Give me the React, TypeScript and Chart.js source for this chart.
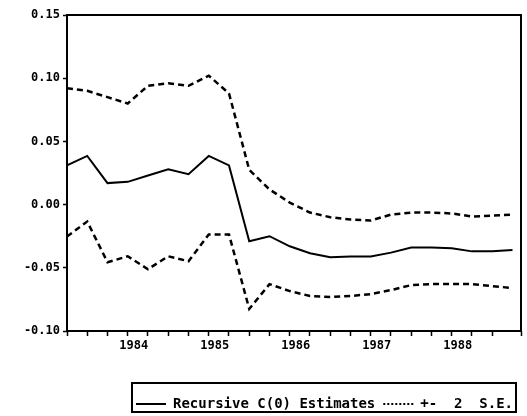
import React, { useEffect, useRef } from "react";
import { Chart, registerables } from "chart.js";

Chart.register(...registerables);

// Quarterly observations 1983:2 .. 1988:4
const quarters = [
  "1983:2", "1983:3", "1983:4",
  "1984:1", "1984:2", "1984:3", "1984:4",
  "1985:1", "1985:2", "1985:3", "1985:4",
  "1986:1", "1986:2", "1986:3", "1986:4",
  "1987:1", "1987:2", "1987:3", "1987:4",
  "1988:1", "1988:2", "1988:3", "1988:4",
];

const estimate = [
  0.031, 0.0385, 0.017, 0.018, 0.023, 0.028, 0.024, 0.0385, 0.031, -0.029, -0.025,
  -0.033, -0.0385, -0.0417, -0.041, -0.041, -0.038, -0.034, -0.034, -0.0346, -0.037,
  -0.037, -0.036,
];

const upperBand = [
  0.092, 0.09, 0.085, 0.08, 0.094, 0.096, 0.094, 0.102, 0.088, 0.0275, 0.012,
  0.0016, -0.0063, -0.01, -0.0118, -0.0126, -0.0079, -0.0063, -0.0063, -0.007,
  -0.0094, -0.0087, -0.0079,
];

const lowerBand = [
  -0.0252, -0.0134, -0.0456, -0.0409, -0.0511, -0.0409, -0.0448, -0.0236, -0.0236,
  -0.0825, -0.0629, -0.0684, -0.0723, -0.0731, -0.0723, -0.0708, -0.0676, -0.0637,
  -0.0629, -0.0629, -0.0629, -0.0645, -0.066,
];

const yTickValues = [-0.1, -0.05, 0.0, 0.05, 0.1, 0.15];
const legendLabels = ["Recursive C(0) Estimates", "+-  2  S.E."];

const toYear = (q: string) => {
  const [y, p] = q.split(":").map(Number);
  return y + (p - 1) / 4;
};

const FONT = "'DejaVu Sans Mono', monospace";
const BAND_DASH = [6, 4];

const framePlugin = {
  id: "frame",
  afterDraw(chart: any) {
    const { ctx, chartArea } = chart;
    ctx.save();
    ctx.strokeStyle = "#000";
    ctx.lineWidth = 2;
    ctx.setLineDash([]);
    ctx.strokeRect(
      chartArea.left,
      chartArea.top,
      chartArea.right - chartArea.left,
      chartArea.bottom - chartArea.top
    );
    const boxes = chart.legend && chart.legend.legendHitBoxes;
    if (boxes && boxes.length) {
      const left = Math.min(...boxes.map((b: any) => b.left)) - 4;
      const right = Math.max(...boxes.map((b: any) => b.left + b.width)) + 3;
      const top = Math.min(...boxes.map((b: any) => b.top)) - 14;
      const bottom = Math.min(415, Math.max(...boxes.map((b: any) => b.top + b.height)) + 1);
      ctx.strokeRect(left, top, right - left, bottom - top);
    }
    ctx.restore();
  },
};

export default function App() {
  const ref = useRef<HTMLCanvasElement>(null);

  useEffect(() => {
    if (!ref.current) return;
    const xs = quarters.map(toYear);
    const mk = (arr: number[]) => arr.map((v, i) => ({ x: xs[i], y: v }));
    const chart = new Chart(ref.current, {
      type: "line",
      data: {
        datasets: [
          {
            label: legendLabels[0],
            data: mk(estimate),
            borderColor: "#000",
            backgroundColor: "#000",
            borderWidth: 2,
            pointRadius: 0,
            tension: 0,
          },
          {
            label: legendLabels[1],
            data: mk(upperBand),
            borderColor: "#000",
            backgroundColor: "#000",
            borderWidth: 2.5,
            borderDash: BAND_DASH,
            pointRadius: 0,
            tension: 0,
          },
          {
            label: "lower",
            data: mk(lowerBand),
            borderColor: "#000",
            backgroundColor: "#000",
            borderWidth: 2.5,
            borderDash: BAND_DASH,
            pointRadius: 0,
            tension: 0,
          },
        ],
      },
      options: {
        animation: false,
        responsive: false,
        layout: { padding: { left: 0, right: 6, top: 15, bottom: -5 } },
        scales: {
          x: {
            type: "linear",
            min: xs[0],
            max: 1988.855,
            border: { display: false },
            grid: {
              display: true,
              drawOnChartArea: false,
              drawTicks: true,
              tickLength: 5,
              tickWidth: 1.5,
              tickColor: "#000",
            },
            ticks: {
              stepSize: 0.25,
              autoSkip: false,
              maxRotation: 0,
              padding: 3,
              labelOffset: 6,
              color: "#000",
              font: { family: FONT, size: 12, weight: "bold" },
              callback: (v: any) => {
                const n = Number(v);
                return Math.abs(n - Math.round(n)) < 1e-6 ? String(Math.round(n)) : "";
              },
            },
            afterFit: (s: any) => {
              s.height = 58;
            },
          },
          y: {
            type: "linear",
            min: yTickValues[0],
            max: yTickValues[yTickValues.length - 1],
            border: { display: false },
            grid: {
              display: true,
              drawOnChartArea: false,
              drawTicks: true,
              tickLength: 4,
              tickWidth: 1.5,
              tickColor: "#000",
            },
            afterBuildTicks: (s: any) => {
              s.ticks = yTickValues.map((v) => ({ value: v }));
            },
            ticks: {
              padding: 3,
              color: "#000",
              font: { family: FONT, size: 12, weight: "bold" },
              callback: (v: any) => {
                const n = Number(v);
                return Math.abs(n) < 1e-9 ? "0.00" : n.toFixed(2);
              },
            },
            afterFit: (s: any) => {
              s.width = 67;
            },
          },
        },
        plugins: {
          legend: {
            display: true,
            position: "bottom",
            align: "end",
            labels: {
              usePointStyle: true,
              pointStyle: "line",
              pointStyleWidth: 30,
              padding: 8,
              color: "#000",
              font: { family: FONT, size: 14, weight: "bold" },
              generateLabels: (c: any) => {
                const items = Chart.defaults.plugins.legend.labels.generateLabels(c);
                return items
                  .filter((it: any) => it.datasetIndex < 2)
                  .map((it: any) => ({
                    ...it,
                    pointStyle: "line",
                    lineWidth: 2,
                    lineDash: it.datasetIndex === 1 ? [2, 2] : [],
                  }));
              },
            },
          },
          tooltip: { enabled: false },
        },
      },
      plugins: [framePlugin],
    } as any);
    return () => chart.destroy();
  }, []);

  return (
    <div style={{ position: "absolute", left: 0, top: 0, width: 527, height: 416, background: "#fff" }}>
      <canvas ref={ref} width={527} height={416} />
    </div>
  );
}
